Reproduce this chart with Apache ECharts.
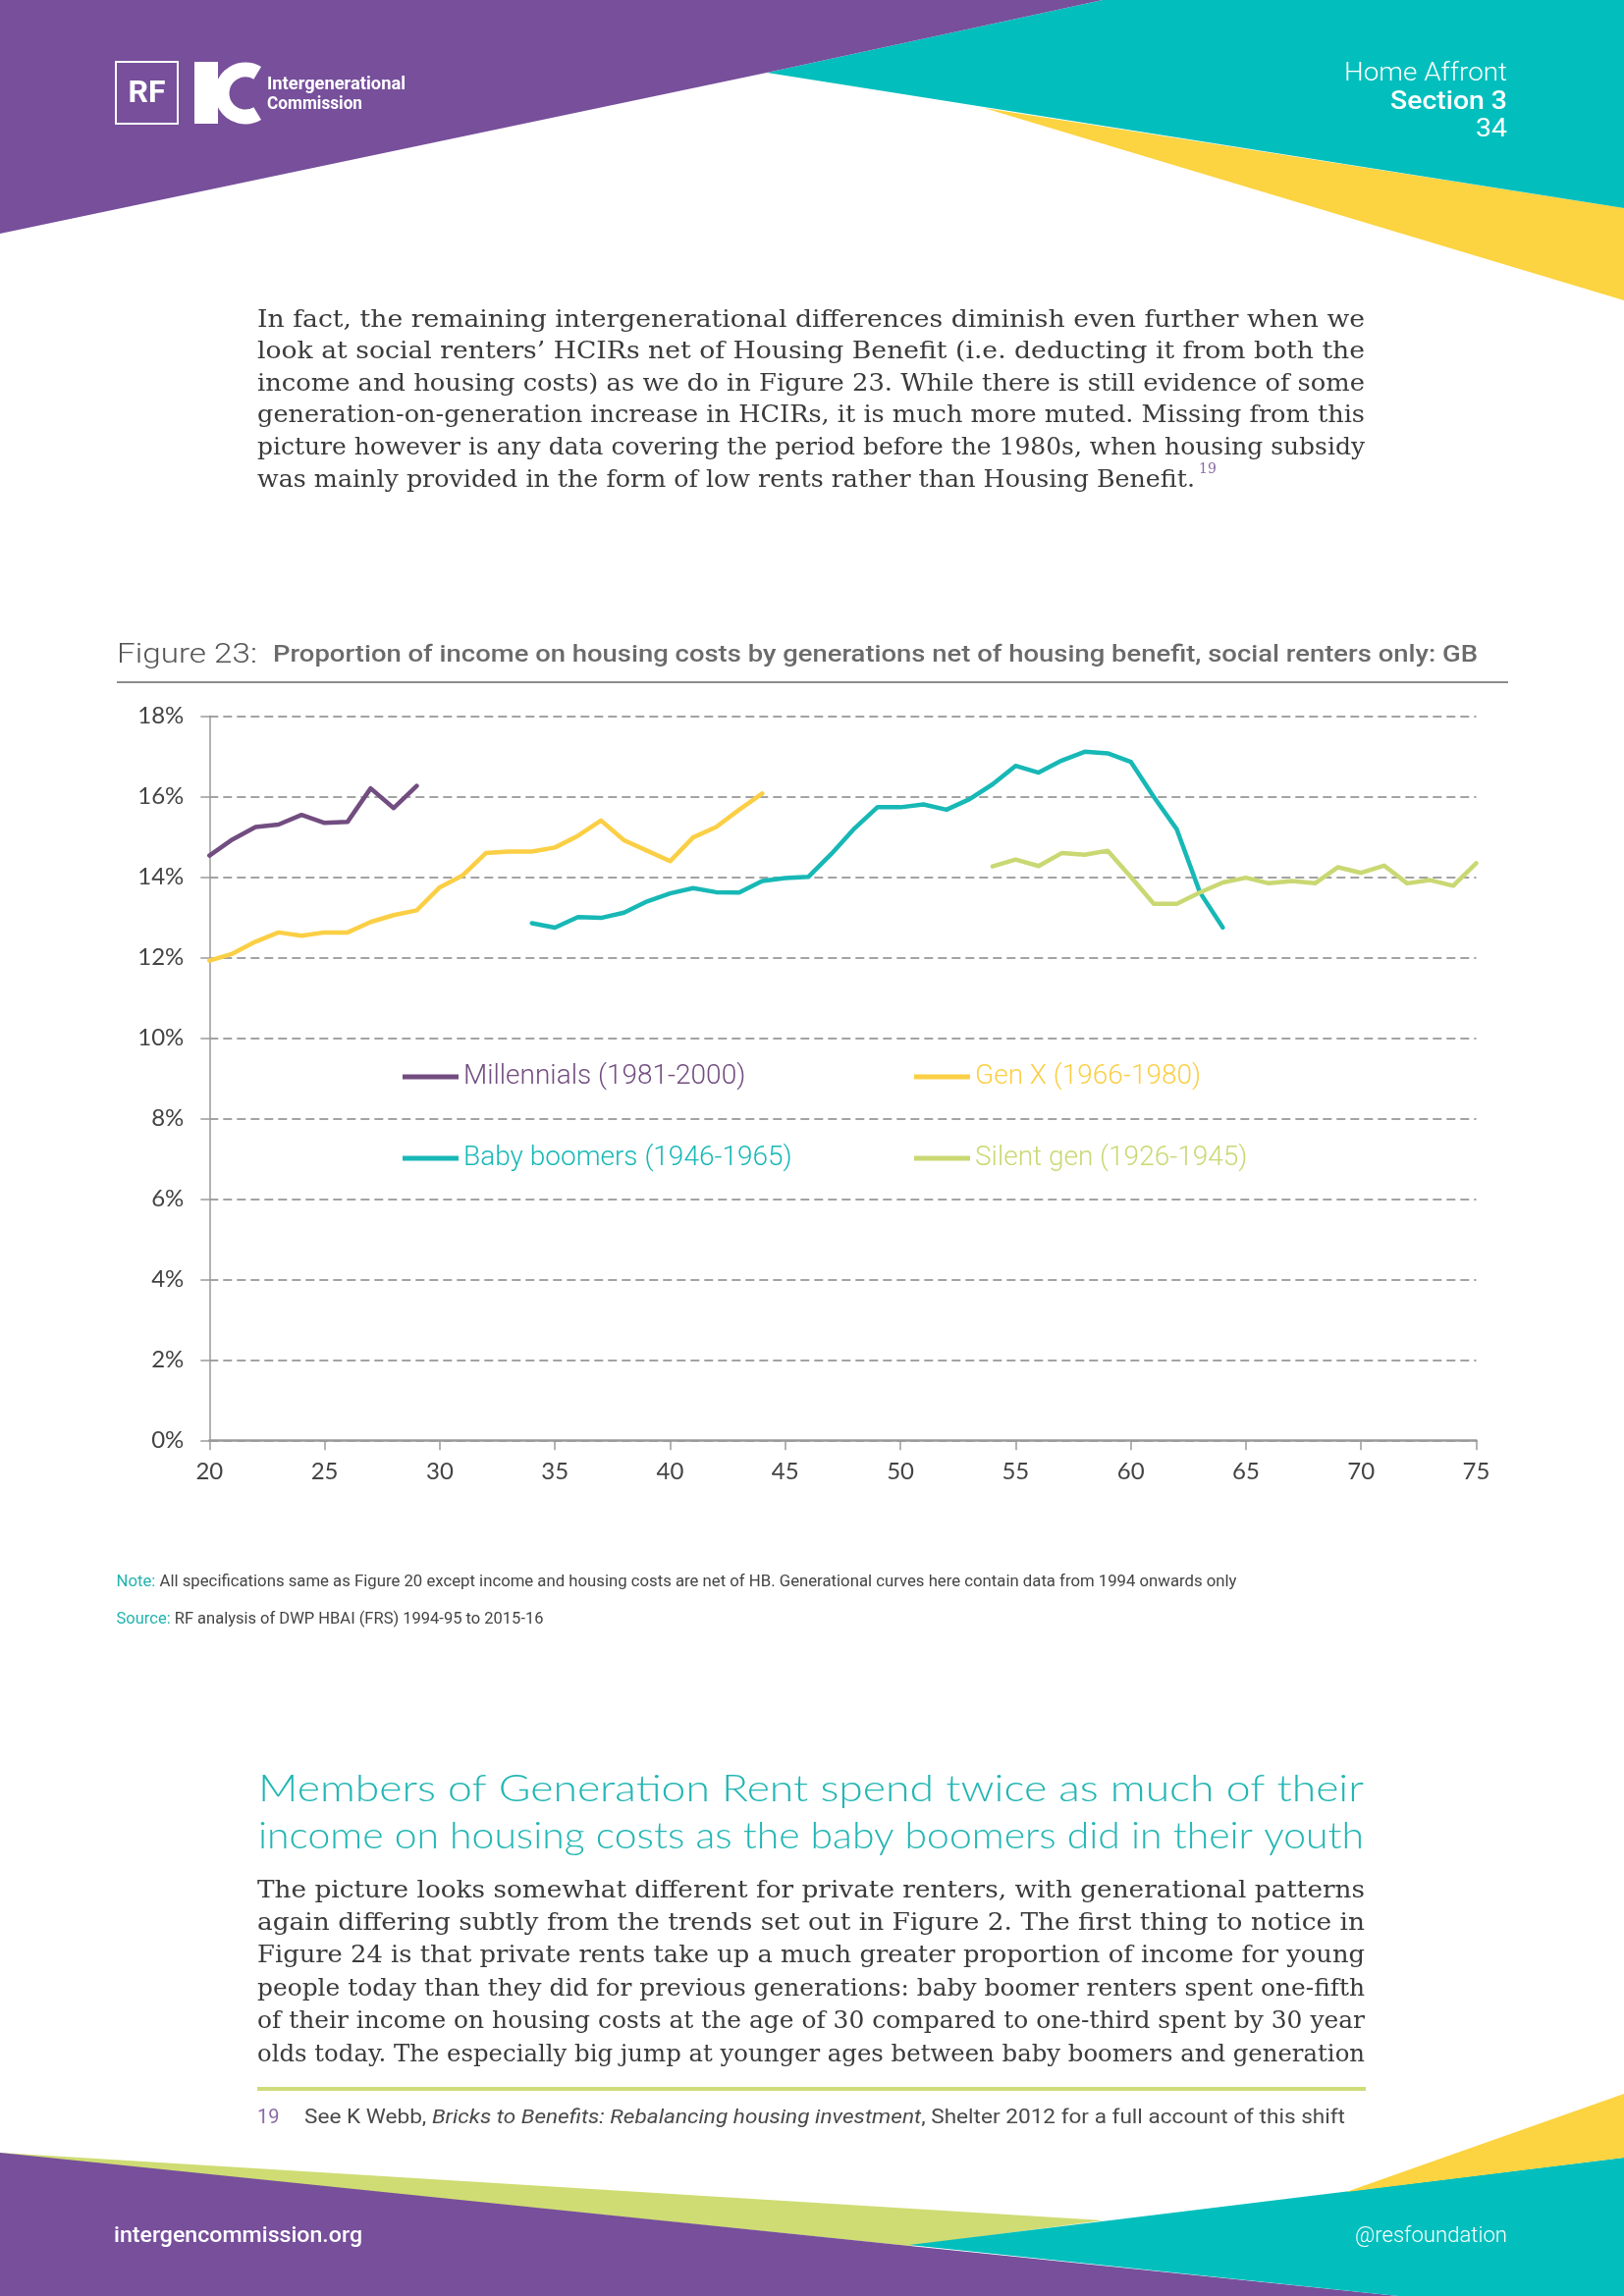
<!DOCTYPE html>
<html><head><meta charset="utf-8">
<script src="https://cdn.jsdelivr.net/npm/echarts@6/dist/echarts.min.js"></script>
<style>html,body{margin:0;padding:0;background:#fff}#c{width:1654px;height:2339px}</style>
</head><body><div id="c"></div>
<script>
// ---------------- DATA ----------------
const seriesNames = ['Millennials (1981-2000)', 'Gen X (1966-1980)', 'Baby boomers (1946-1965)', 'Silent gen (1926-1945)'];
const agesMillennials = [20,21,22,23,24,25,26,27,28,29];
const millennials = [14.53,14.93,15.24,15.30,15.54,15.34,15.37,16.20,15.71,16.26];
const agesGenX = [20,21,22,23,24,25,26,27,28,29,30,31,32,33,34,35,36,37,38,39,40,41,42,43,44];
const genX = [11.92,12.09,12.39,12.62,12.54,12.62,12.62,12.88,13.05,13.17,13.74,14.04,14.59,14.63,14.63,14.73,15.02,15.40,14.91,14.65,14.39,14.98,15.24,15.67,16.07];
const agesBoomers = [34,35,36,37,38,39,40,41,42,43,44,45,46,47,48,49,50,51,52,53,54,55,56,57,58,59,60,61,62,63,64];
const boomers = [12.85,12.74,13.00,12.98,13.11,13.39,13.59,13.72,13.62,13.61,13.90,13.97,14.00,14.57,15.20,15.73,15.73,15.80,15.67,15.93,16.30,16.76,16.59,16.89,17.11,17.07,16.86,15.99,15.18,13.62,12.74];
const agesSilent = [54,55,56,57,58,59,60,61,62,63,64,65,66,67,68,69,70,71,72,73,74,75];
const silent = [14.26,14.43,14.27,14.59,14.55,14.65,14.00,13.33,13.33,13.61,13.86,13.98,13.84,13.90,13.84,14.24,14.10,14.28,13.84,13.92,13.78,14.34];
const xTicks = {min:20, max:75, interval:5};
const yTicks = {min:0, max:18, interval:2};

// ---------------- TEXT ----------------
const para1 = [
 'In fact, the remaining intergenerational differences diminish even further when we',
 'look at social renters\u2019 HCIRs net of Housing Benefit (i.e. deducting it from both the',
 'income and housing costs) as we do in Figure 23. While there is still evidence of some',
 'generation-on-generation increase in HCIRs, it is much more muted. Missing from this',
 'picture however is any data covering the period before the 1980s, when housing subsidy',
 'was mainly provided in the form of low rents rather than Housing Benefit.'
];
const heading2 = [
 'Members of Generation Rent spend twice as much of their',
 'income on housing costs as the baby boomers did in their youth'
];
const para2 = [
 'The picture looks somewhat different for private renters, with generational patterns',
 'again differing subtly from the trends set out in Figure 2. The first thing to notice in',
 'Figure 24 is that private rents take up a much greater proportion of income for young',
 'people today than they did for previous generations: baby boomer renters spent one-fifth',
 'of their income on housing costs at the age of 30 compared to one-third spent by 30 year',
 'olds today. The especially big jump at younger ages between baby boomers and generation'
];

// ---------------- HELPERS ----------------
const mctx = document.createElement('canvas').getContext('2d');
function measure(text, font){ mctx.font = font; return mctx.measureText(text).width; }
function txt(text, x, y, font, color, opt){
  opt = opt || {};
  const el = {type:'text', x:x, y:y, z:10, silent:true,
    style:{text:text, font:font, fill:color, textAlign:opt.align||'left', textVerticalAlign:'middle'}};
  if (opt.width) el.scaleX = opt.width / measure(text, font);
  return el;
}
function segs(parts, x, y, width){
  let tot = 0; parts.forEach(p => { p.w = measure(p.t, p.f); tot += p.w; });
  const s = width / tot; let cx = x; const out = [];
  parts.forEach(p => { out.push({type:'text', x:cx, y:y, z:10, scaleX:s, silent:true,
     style:{text:p.t, font:p.f, fill:p.c, textAlign:'left', textVerticalAlign:'middle'}}); cx += p.w*s; });
  return out;
}

const PURPLE='#774f9b', TEAL='#02bfbd', YELLOW='#fcd340', GREEN='#cfdc73';
const graphics = [];
graphics.push({type:'polygon', z:1, silent:true, shape:{points:[[1002,110],[1654,212],[1654,306]]}, style:{fill:YELLOW}});
graphics.push({type:'polygon', z:1, silent:true, shape:{points:[[781,74],[1123,0],[1654,0],[1654,212]]}, style:{fill:TEAL}});
graphics.push({type:'polygon', z:1, silent:true, shape:{points:[[0,0],[1123,0],[781,74],[0,238]]}, style:{fill:PURPLE}});
graphics.push({type:'polygon', z:1, silent:true, shape:{points:[[0,2193],[1124,2262],[926,2288],[0,2194]]}, style:{fill:GREEN}});
graphics.push({type:'polygon', z:1, silent:true, shape:{points:[[0,2193],[1424,2339],[0,2339]]}, style:{fill:PURPLE}});
graphics.push({type:'polygon', z:1, silent:true, shape:{points:[[926,2287],[1654,2198],[1654,2339],[1424,2339]]}, style:{fill:TEAL}});
graphics.push({type:'polygon', z:1, silent:true, shape:{points:[[1371,2233],[1654,2133],[1654,2198]]}, style:{fill:YELLOW}});

// logo
graphics.push({type:'rect', z:5, silent:true, shape:{x:118,y:63,width:63,height:63}, style:{fill:'none', stroke:'#fff', lineWidth:2}});
graphics.push(txt('RF', 149.5, 96, 'bold 32px Roboto', '#fff', {align:'center', width:38}));
graphics.push({type:'rect', z:5, silent:true, shape:{x:198,y:63,width:24,height:63}, style:{fill:'#fff'}});
graphics.push({type:'arc', z:5, silent:true, shape:{cx:250, cy:95, r:24, startAngle:Math.PI*0.33, endAngle:Math.PI*1.67, clockwise:true}, style:{stroke:'#fff', lineWidth:15, fill:null}});
graphics.push(txt('Intergenerational', 272, 86, 'bold 18px Roboto', '#fff', {width:141}));
graphics.push(txt('Commission', 272, 106, 'bold 18px Roboto', '#fff', {width:97}));

// header right
graphics.push(txt('Home Affront', 1535, 75, '300 26px Roboto', '#fff', {align:'right', width:166}));
graphics.push(txt('Section 3', 1535, 104, '500 26px Roboto', '#fff', {align:'right', width:119}));
graphics.push(txt('34', 1535, 132, '400 26px Roboto', '#fff', {align:'right', width:32}));

// paragraph 1
const BODY = '25px "DejaVu Serif"', BODYC = '#3b3b3b';
para1.forEach((l,i) => {
  const y = 326 + 32.6*i;
  const w = (i === para1.length-1) ? 955 : 1128;
  graphics.push(txt(l, 262, y, BODY, BODYC, {width:w}));
});
graphics.push(txt('19', 1221, 478, '14px "DejaVu Serif"', '#8a6aa3'));

// figure title
graphics.push(txt('Figure 23:', 119, 668, '300 27px Roboto', '#555', {width:143}));
graphics.push(txt('Proportion of income on housing costs by generations net of housing benefit, social renters only: GB', 278, 668, '500 23px Roboto', '#6b6b6b', {width:1227}));
graphics.push({type:'line', z:5, silent:true, shape:{x1:119,y1:695,x2:1536,y2:695}, style:{stroke:'#8c8c8c', lineWidth:2}});

// notes
segs([{t:'Note:', f:'16px Roboto', c:'#23b3ae'}, {t:' All specifications same as Figure 20 except income and housing costs are net of HB. Generational curves here contain data from 1994 onwards only', f:'16px Roboto', c:'#444'}], 118.5, 1612, 1141).forEach(e=>graphics.push(e));
segs([{t:'Source:', f:'16px Roboto', c:'#23b3ae'}, {t:' RF analysis of DWP HBAI (FRS) 1994-95 to 2015-16', f:'16px Roboto', c:'#444'}], 118.5, 1650, 435).forEach(e=>graphics.push(e));

// heading 2
heading2.forEach((l,i) => graphics.push(txt(l, 263, 1823 + 48*i, '300 38px Lato', '#22b6b3', {width:1126})));
// paragraph 2
para2.forEach((l,i) => graphics.push(txt(l, 262, 1926 + 33.4*i, BODY, BODYC, {width:1128})));
// rule + footnote
graphics.push({type:'rect', z:5, silent:true, shape:{x:262,y:2126,width:1129,height:4}, style:{fill:'#cfdb78'}});
graphics.push(txt('19', 262, 2158, '20px Roboto', '#8c6aa6'));
segs([{t:'See K Webb, ', f:'20px Roboto', c:'#4a4a4a'}, {t:'Bricks to Benefits: Rebalancing housing investment', f:'italic 20px Roboto', c:'#4a4a4a'}, {t:', Shelter 2012 for a full account of this shift', f:'20px Roboto', c:'#4a4a4a'}], 310, 2158, 1060).forEach(e=>graphics.push(e));

// footer
graphics.push(txt('intergencommission.org', 116, 2278, '500 22px Roboto', '#fff', {width:253}));
graphics.push(txt('@resfoundation', 1535, 2278, '300 22px Roboto', '#fff', {align:'right', width:155}));

// ---------------- CHART ----------------
const COLORS = ['#724d80', '#fbcf45', '#17b8b6', '#cad873'];
function pairs(xs, ys){ return xs.map((x,i) => [x, ys[i]]); }
const seriesData = [pairs(agesMillennials, millennials), pairs(agesGenX, genX), pairs(agesBoomers, boomers), pairs(agesSilent, silent)];
function leg(i, left, cy){
  return {data:[{name:seriesNames[i], textStyle:{color:COLORS[i]}}], left:left, top:cy-16, icon:'rect', itemWidth:57, itemHeight:5,
    padding:0, itemGap:0, selectedMode:false,
    textStyle:{fontSize:28, fontFamily:'Roboto', fontWeight:300, color:COLORS[i], lineHeight:32}};
}
const chart = echarts.init(document.getElementById('c'), null, {renderer:'canvas', width:1654, height:2339});
chart.setOption({
  animation:false,
  backgroundColor:'#fff',
  grid:{left:213.3, top:729.3, width:1290.2, height:738},
  xAxis:{type:'value', min:xTicks.min, max:xTicks.max, interval:xTicks.interval,
    axisLine:{lineStyle:{color:'#9a9a9a', width:2.5}},
    axisTick:{show:true, length:10, lineStyle:{color:'#9a9a9a', width:1.5}},
    axisLabel:{fontSize:24, color:'#444', fontFamily:'Lato', margin:20},
    splitLine:{show:false}},
  yAxis:{type:'value', min:yTicks.min, max:yTicks.max, interval:yTicks.interval,
    axisLine:{show:true, lineStyle:{color:'#9a9a9a', width:1.5}},
    axisTick:{show:true, length:9, lineStyle:{color:'#9a9a9a', width:1.5}},
    axisLabel:{formatter:'{value}%', fontSize:24, color:'#444', fontFamily:'Lato', margin:26},
    splitLine:{show:true, lineStyle:{color:'#a3a3a3', width:2, type:[9,5]}}},
  legend:[leg(0, 410, 1097), leg(1, 931, 1097), leg(2, 410, 1180), leg(3, 931, 1180)],
  series: seriesData.map((d,i) => ({name:seriesNames[i], type:'line', data:d, showSymbol:false, symbol:'none', z:3,
     color:COLORS[i], lineStyle:{width:4.5, color:COLORS[i], cap:'round', join:'round'}})),
  graphic:{elements:graphics}
});
</script>
</body></html>
